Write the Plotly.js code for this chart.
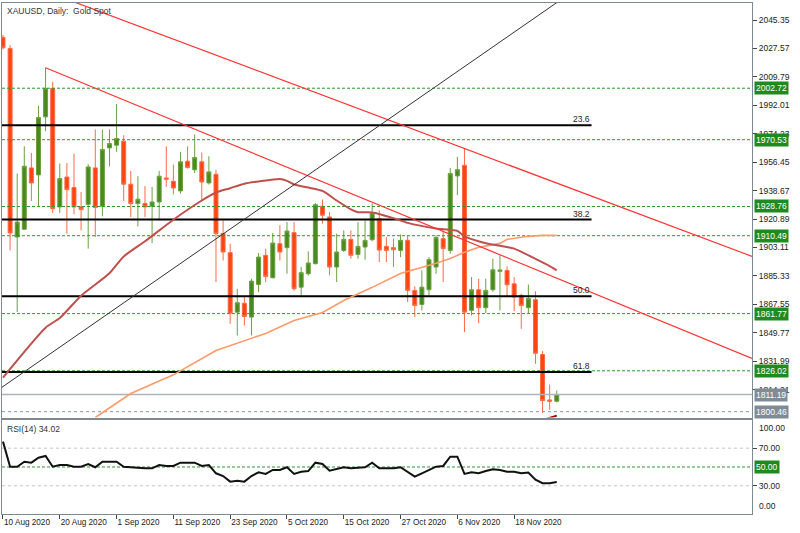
<!DOCTYPE html>
<html><head><meta charset="utf-8">
<script src="https://cdn.plot.ly/plotly-3.0.1.min.js"></script>
<style>html,body{margin:0;padding:0;background:#fff;}#chart{width:800px;height:533px;}</style>
</head><body><div id="chart"></div>
<script>
// ---- Daily XAUUSD bars (10 Aug 2020 .. 26 Nov 2020), index 0 = 10 Aug 2020
const open = [2034.5,2027.6,1909.7,1914.5,1952.9,1948.5,1984.8,2002.6,1928.5,1947.2,
1940.6,1928.5,1930.1,1952.9,1928.9,1965.4,1967.1,1969.6,1942.7,1930.6,
1930.6,1928.9,1931.6,1946.6,1944.5,1938.5,1957.1,1951.7,1956.7,1943.5,
1948.9,1911.8,1899.9,1862.7,1868.3,1859.6,1880.0,1898.2,1884.2,1905.5,
1903.0,1912.4,1878.3,1886.7,1893.0,1928.9,1922.2,1890.9,1901.3,1908.2,
1898.8,1903.4,1908.0,1921.2,1903.8,1903.0,1901.3,1907.6,1876.3,1867.5,
1876.7,1890.9,1908.6,1901.3,1947.9,1954.5,1863.8,1876.7,1865.5,1876.7,
1888.2,1888.8,1880.4,1873.2,1865.5,1870.5,1836.2,1807.8,1807.0];
const high = [2036.0,2029.7,1949.4,1966.4,1962.2,1991.7,2015.5,2006.7,1955.6,1956.0,
1961.8,1937.8,1955.2,1976.9,1976.9,1976.9,1992.8,1973.3,1951.0,1947.7,
1941.6,1941.0,1951.0,1966.4,1955.0,1962.9,1966.4,1973.8,1962.5,1960.2,
1951.8,1920.1,1905.5,1877.3,1872.1,1883.6,1899.6,1902.4,1912.2,1917.0,
1919.0,1919.0,1890.9,1900.7,1931.0,1933.1,1925.3,1911.8,1913.8,1913.8,
1919.0,1920.1,1930.6,1926.4,1909.7,1908.6,1911.3,1910.7,1878.8,1888.8,
1897.1,1910.7,1913.8,1952.9,1959.8,1965.0,1884.6,1883.6,1883.6,1896.1,
1898.2,1891.3,1884.6,1874.2,1880.0,1875.8,1838.3,1817.4,1813.7];
const low = [2027.0,1901.3,1862.7,1914.5,1932.2,1929.1,1975.8,1924.7,1924.7,1911.8,
1923.9,1913.9,1902.4,1909.7,1922.6,1953.9,1962.9,1932.2,1922.2,1916.3,
1922.2,1905.9,1920.1,1941.0,1936.4,1936.8,1952.5,1949.7,1932.0,1942.5,
1881.5,1895.0,1855.4,1848.1,1854.3,1848.1,1875.2,1881.5,1883.8,1895.0,
1886.7,1876.0,1873.2,1885.5,1892.5,1918.0,1885.7,1881.5,1900.3,1896.1,
1896.1,1895.5,1907.0,1894.0,1894.0,1890.9,1897.1,1869.0,1859.6,1863.8,
1873.2,1886.7,1881.5,1899.2,1935.8,1850.2,1860.6,1855.8,1862.1,1875.5,
1863.8,1872.1,1863.3,1852.3,1861.7,1830.4,1799.5,1801.6,1806.3];
const close = [2028.0,1912.2,1919.0,1953.9,1943.5,1984.4,2002.6,1927.4,1946.2,1939.3,
1928.5,1926.8,1953.5,1928.1,1964.4,1968.1,1971.3,1942.7,1930.6,1933.3,
1928.5,1931.6,1947.7,1945.8,1940.3,1956.7,1953.1,1959.4,1944.1,1950.4,
1911.8,1900.3,1862.1,1868.6,1860.0,1882.1,1897.1,1885.0,1905.9,1900.3,
1913.4,1877.3,1887.4,1893.4,1929.9,1923.3,1890.9,1900.3,1908.2,1898.2,
1903.8,1907.6,1924.7,1901.5,1901.3,1901.7,1907.6,1876.3,1866.9,1878.3,
1895.5,1909.3,1902.4,1949.4,1951.8,1862.7,1876.7,1865.5,1876.3,1889.2,
1889.0,1879.8,1872.1,1866.9,1871.2,1837.0,1807.4,1807.0,1811.2];

// RSI(14)
const rsi = [77,50.3,50.3,55.6,54.6,59.9,61.7,50.3,52.1,52.1,
50.3,50.3,53.2,49.7,55.6,55.6,55.6,50.3,49.7,48.6,
48.6,48.6,52.1,51.1,51.1,54.6,54.6,54.6,51.1,52.1,
43.3,40.4,34.4,35.4,34.4,40.4,44.4,42.6,46.8,46.8,
49.7,42.6,45,45.7,54.6,53.2,46.1,47.6,49.7,48.6,
49,49.7,54.6,48.6,48.6,48.6,49.7,45,39.7,43.3,
47,50.3,51.1,61,61,42.6,44.4,43.3,45.7,47.6,
46.8,45,45,43.3,44,36.5,32.7,32.7,34.02];

// Moving averages (read at bar indices)
const maSlowIdx = [0,6,8,11,15,17,20,24,28,30,32,34,36,39,40,41,43,45,47,49,50,52,55,57,61,64,65,68,70,72,75,77,78];
const maSlowVal = [1821.8,1853.0,1859.0,1873.0,1887.0,1897.5,1907.0,1920.5,1932.5,1937.5,1940.2,1943.0,1944.4,1946.0,1944.8,1942.5,1940.6,1938.5,1932.5,1927.0,1925.2,1925.0,1921.5,1918.5,1915.0,1913.5,1910.0,1905.8,1904.2,1902.4,1896.0,1891.5,1888.8];
const maLongIdx = [13,18,24,28,30,37,41,45,48,52,56,61,63,65,67,70,71,74,76,78];
const maLongVal = [1796.8,1811.8,1823.5,1833.7,1838.7,1849.4,1857.5,1862.5,1870.0,1878.2,1886.9,1893.2,1896.3,1900.1,1903.2,1905.7,1908.2,1910.1,1910.7,1910.7];
const maVeryLongIdx = [76,77,78];
const maVeryLongVal = [1795.2,1796.6,1798.0];

// Trend lines [i0, p0, i1, p1]
const redTrend1 = [-1, 2075.0, 105.5, 1897.6];
const redTrend2 = [6, 2015.5, 105.5, 1833.7];
const blackTrend = [-1, 1813.1, 80, 2062.4];

// Levels
const greenLevels = [2002.72, 1970.53, 1928.76, 1910.49, 1861.77, 1826.02];
const bidLevel = 1811.19;
const askLevel = 1800.46;
const fibLevels = [1979.6, 1920.6, 1872.7, 1825.2];
const fibLabels = ['23.6', '38.2', '50.0', '61.8'];
const fibEndIdx = 82.9;
const rsiLevels = [70, 50, 30];

// Axis ticks
const priceTicks = [2045.35,2027.57,2009.79,1992.01,1974.23,1956.45,1938.67,1920.89,1903.11,1885.33,1867.55,1849.77,1831.99,1814.21];
const dateTickIdx = [0,8,16,24,32,40,48,56,64,72];
const dateTickText = ['10 Aug 2020','20 Aug 2020','1 Sep 2020','11 Sep 2020','23 Sep 2020','5 Oct 2020','15 Oct 2020','27 Oct 2020','6 Nov 2020','18 Nov 2020'];

// ---- build
const FONT = '"Liberation Sans", Arial, sans-serif';
const xRange = [-0.14, 105.5];
const frame = '#7d8993';
const idx = open.map((_, i) => i);
const GREEN = '#2a9a2a', BOXGREEN = '#1f8a1f', BOXGRAY = '#7f8b97';

function hlines(levels, x0, x1) {
  const xs = [], ys = [];
  levels.forEach(v => { xs.push(x0, x1, null); ys.push(v, v, null); });
  return {x: xs, y: ys};
}

const traces = [];
// candles
traces.push({
  type: 'candlestick', x: idx, open: open, high: high, low: low, close: close,
  xaxis: 'x', yaxis: 'y', whiskerwidth: 0,
  increasing: {line: {color: '#6aa040', width: 1}, fillcolor: '#4a8a1c'},
  decreasing: {line: {color: '#ff6a45', width: 1}, fillcolor: '#ff4411'},
  hoverinfo: 'skip'
});
// green levels
let g = hlines(greenLevels, xRange[0], xRange[1]);
traces.push({type: 'scatter', mode: 'lines', x: g.x, y: g.y, xaxis: 'x', yaxis: 'y',
  line: {color: GREEN, width: 1, dash: '3px,2px'}, hoverinfo: 'skip'});
// bid / ask
traces.push({type: 'scatter', mode: 'lines', x: [xRange[0], xRange[1]], y: [bidLevel, bidLevel], xaxis: 'x', yaxis: 'y',
  line: {color: '#aab4bc', width: 1.5}, hoverinfo: 'skip'});
traces.push({type: 'scatter', mode: 'lines', x: [xRange[0], xRange[1]], y: [askLevel, askLevel], xaxis: 'x', yaxis: 'y',
  line: {color: '#8795a1', width: 1, dash: '3px,3px'}, hoverinfo: 'skip'});
// fib lines
let f = hlines(fibLevels, xRange[0], fibEndIdx);
traces.push({type: 'scatter', mode: 'lines', x: f.x, y: f.y, xaxis: 'x', yaxis: 'y',
  line: {color: '#000', width: 2}, hoverinfo: 'skip'});
// moving averages
traces.push({type: 'scatter', mode: 'lines', x: maLongIdx, y: maLongVal, xaxis: 'x', yaxis: 'y',
  line: {color: '#ff9a6a', width: 1.6}, hoverinfo: 'skip'});
traces.push({type: 'scatter', mode: 'lines', x: maSlowIdx, y: maSlowVal, xaxis: 'x', yaxis: 'y',
  line: {color: '#c0504d', width: 2, shape: 'spline', smoothing: 0.6}, hoverinfo: 'skip'});
traces.push({type: 'scatter', mode: 'lines', x: maVeryLongIdx, y: maVeryLongVal, xaxis: 'x', yaxis: 'y',
  line: {color: '#a00000', width: 2}, hoverinfo: 'skip'});
// trend lines
[redTrend1, redTrend2].forEach(t => traces.push({type: 'scatter', mode: 'lines', x: [t[0], t[2]], y: [t[1], t[3]],
  xaxis: 'x', yaxis: 'y', line: {color: '#ff3333', width: 1.2}, hoverinfo: 'skip'}));
traces.push({type: 'scatter', mode: 'lines', x: [blackTrend[0], blackTrend[2]], y: [blackTrend[1], blackTrend[3]],
  xaxis: 'x', yaxis: 'y', line: {color: '#333', width: 1}, hoverinfo: 'skip'});

// RSI levels
[70, 30].forEach(v => traces.push({type: 'scatter', mode: 'lines', x: [xRange[0], xRange[1]], y: [v, v],
  xaxis: 'x2', yaxis: 'y2', line: {color: '#c4c4c4', width: 1, dash: '3px,3px'}, hoverinfo: 'skip'}));
traces.push({type: 'scatter', mode: 'lines', x: [xRange[0], xRange[1]], y: [50, 50],
  xaxis: 'x2', yaxis: 'y2', line: {color: GREEN, width: 1, dash: '3px,2px'}, hoverinfo: 'skip'});
traces.push({type: 'scatter', mode: 'lines', x: idx, y: rsi, xaxis: 'x2', yaxis: 'y2',
  line: {color: '#111', width: 2}, hoverinfo: 'skip'});

// annotations
const ann = [];
ann.push({xref: 'paper', yref: 'paper', x: 0, y: 1, xanchor: 'left', yanchor: 'top', xshift: 3, yshift: -1,
  text: 'XAUUSD, Daily:  Gold Spot', showarrow: false, font: {size: 8.5, color: '#333'}});
ann.push({xref: 'paper', yref: 'y2 domain', x: 0, y: 1, xanchor: 'left', yanchor: 'top', xshift: 3, yshift: -2,
  text: 'RSI(14) 34.02', showarrow: false, font: {size: 8.5, color: '#333'}});
function box(yref, v, txt, bg) {
  return {xref: 'paper', yref: yref, x: 1, y: v, xanchor: 'left', yanchor: 'middle', xshift: 2,
    text: txt, showarrow: false, bgcolor: bg, borderpad: 1, font: {size: 8.5, color: '#fff'}};
}
greenLevels.forEach(v => ann.push(box('y', v, v.toFixed(2), BOXGREEN)));
ann.push(box('y', bidLevel, bidLevel.toFixed(2), BOXGRAY));
ann.push(box('y', askLevel, askLevel.toFixed(2), BOXGRAY));
ann.push(box('y2', 50, '50.00', BOXGREEN));
fibLevels.forEach((v, k) => ann.push({xref: 'x', yref: 'y', x: fibEndIdx, y: v, xanchor: 'right', yanchor: 'bottom',
  yshift: -1, text: fibLabels[k], showarrow: false, font: {size: 8.5, color: '#222'}}));
ann.push({xref: 'paper', yref: 'y2', x: 1, y: 100, xanchor: 'left', yanchor: 'top', xshift: 5, yshift: -1,
  text: '100.00', showarrow: false, font: {size: 8.5, color: '#222'}});
ann.push({xref: 'paper', yref: 'y2', x: 1, y: 0, xanchor: 'left', yanchor: 'bottom', xshift: 5, yshift: 1,
  text: '0.00', showarrow: false, font: {size: 8.5, color: '#222'}});

const axBase = {showgrid: false, zeroline: false, showline: true, mirror: true, linecolor: frame, linewidth: 1};
const layout = {
  width: 800, height: 533,
  margin: {l: 2, r: 48, t: 3, b: 19},
  paper_bgcolor: '#fff', plot_bgcolor: '#fff',
  showlegend: false, hovermode: false,
  boxgap: 0.2, boxgroupgap: 0.3,
  font: {family: FONT, size: 8.5, color: '#222'},
  xaxis: Object.assign({}, axBase, {domain: [0, 1], anchor: 'y', range: xRange, rangeslider: {visible: false},
    showticklabels: false, ticks: ''}),
  yaxis: Object.assign({}, axBase, {domain: [0.1888, 1], anchor: 'x', side: 'right', range: [1796.8, 2056.0],
    tickmode: 'array', tickvals: priceTicks, ticktext: priceTicks.map(v => v.toFixed(2)),
    ticks: 'outside', ticklen: 4, tickcolor: '#444', tickfont: {size: 8.5, color: '#222'}}),
  xaxis2: Object.assign({}, axBase, {domain: [0, 1], anchor: 'y2', matches: 'x', range: xRange,
    tickmode: 'array', tickvals: dateTickIdx, ticktext: dateTickText, ticks: 'outside', ticklen: 4,
    tickcolor: '#444', ticklabelposition: 'outside right', tickfont: {size: 8.2, color: '#222'}}),
  yaxis2: Object.assign({}, axBase, {domain: [0, 0.184], anchor: 'x2', side: 'right', range: [0, 100],
    tickmode: 'array', tickvals: [30, 70], ticktext: ['30.00', '70.00'], ticks: 'outside', ticklen: 4,
    tickcolor: '#444', tickfont: {size: 8.5, color: '#222'}}),
  annotations: ann
};
Plotly.newPlot('chart', traces, layout, {staticPlot: true, displayModeBar: false});
</script></body></html>
